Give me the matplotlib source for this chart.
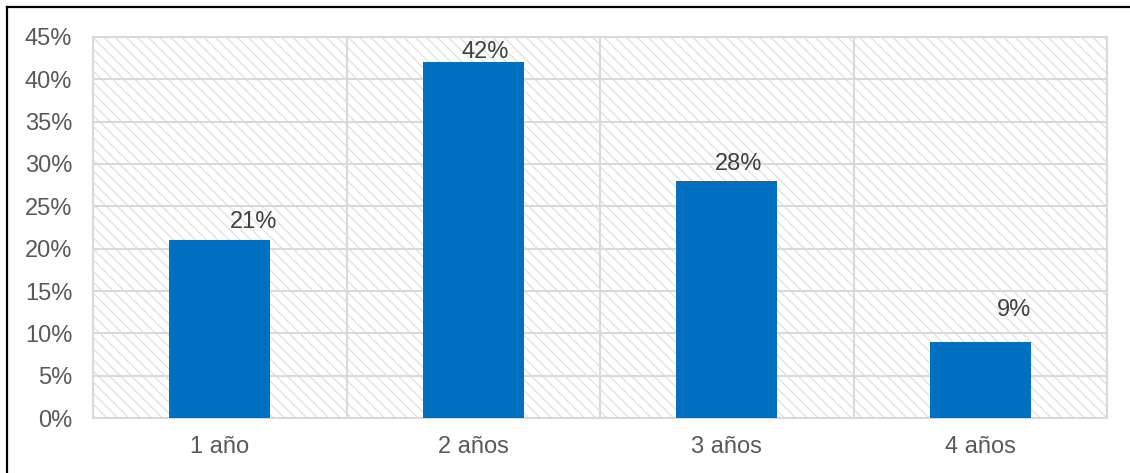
import matplotlib
matplotlib.use('Agg')
import matplotlib.pyplot as plt
from matplotlib.patches import Rectangle
from matplotlib.lines import Line2D
import numpy as np

categorias = ['1 año', '2 años', '3 años', '4 años']
porcentajes = [21, 42, 28, 9]
etiquetas = ['21%', '42%', '28%', '9%']
ticks_y = [0, 5, 10, 15, 20, 25, 30, 35, 40, 45]

# desplazamiento de las etiquetas respecto al tope de cada barra (px)
desp_x = [34, 12, 12, 34]
desp_y = [18, 10, 17, 32]

plt.rcParams['font.family'] = ['Liberation Sans', 'DejaVu Sans']
plt.rcParams['hatch.linewidth'] = 0.9

fig = plt.figure(figsize=(11.3, 4.73), dpi=100)
ax = fig.add_axes([93 / 1130, 55 / 473, (1107 - 93) / 1130, (418 - 37) / 473])

x = np.arange(len(categorias))

# fondo rayado del área de trazado
ax.set_facecolor('white')
fondo = Rectangle((0, 0), 1, 1, transform=ax.transAxes, facecolor='white',
                  edgecolor='#e0e0e0', hatch='\\\\\\', linewidth=0, zorder=0)
ax.add_patch(fondo)

# líneas de cuadrícula
for v in ticks_y:
    ax.axhline(v, color='#d9d9d9', linewidth=1.5, zorder=1)
for b in np.arange(len(categorias) + 1) - 0.5:
    ax.axvline(b, color='#d9d9d9', linewidth=1.5, zorder=1)

ax.bar(x, porcentajes, width=0.4, color='#0070C0', zorder=3)

for xi, v, t, dx, dy in zip(x, porcentajes, etiquetas, desp_x, desp_y):
    ax.annotate(t, (xi, v), xytext=(dx, dy), textcoords='offset pixels',
                ha='center', va='center', fontsize=17, color='#404040', zorder=4)

ax.set_xlim(-0.5, len(categorias) - 0.5)
ax.set_ylim(0, 45)
ax.set_yticks(ticks_y)
ax.set_yticklabels([f'{v}%' for v in ticks_y])
ax.set_xticks(x)
ax.set_xticklabels(categorias)
ax.tick_params(axis='both', length=0, labelsize=17, labelcolor='#595959')
ax.tick_params(axis='y', pad=15)
ax.tick_params(axis='x', pad=13)

for s in ax.spines.values():
    s.set_color('#d9d9d9')
    s.set_linewidth(1.5)

# marco exterior (izquierda y arriba)
fig.add_artist(Line2D([6.5 / 1130, 6.5 / 1130], [0, 1 - 7 / 473], color='black',
                      linewidth=1.6, transform=fig.transFigure))
fig.add_artist(Line2D([6.5 / 1130, 1], [1 - 7 / 473, 1 - 7 / 473], color='black',
                      linewidth=1.6, transform=fig.transFigure))

fig.savefig('out.png', dpi=100)
